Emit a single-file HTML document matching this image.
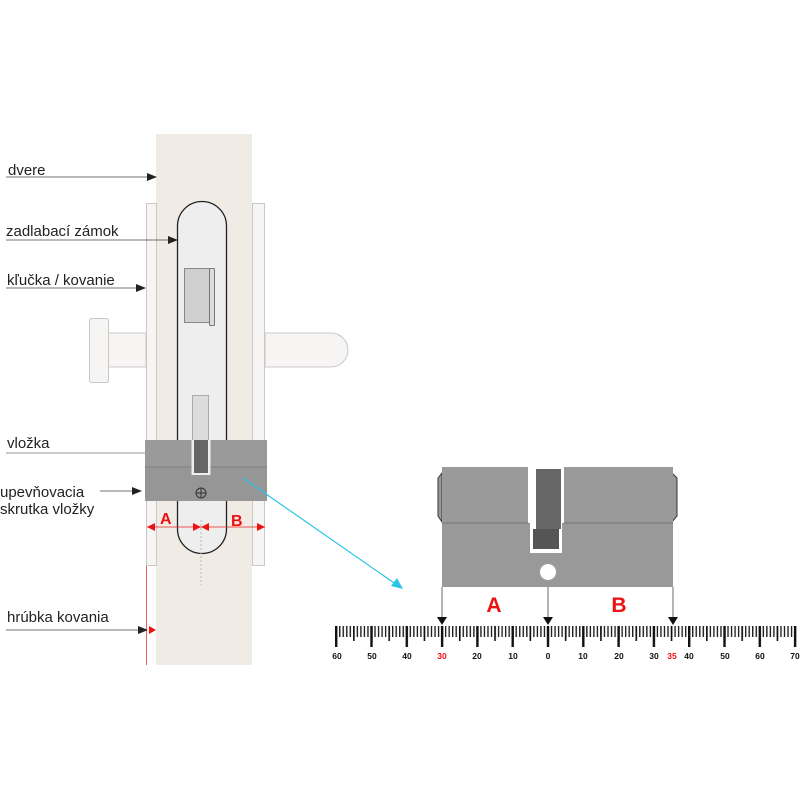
<!DOCTYPE html>
<html><head><meta charset="utf-8"><style>html,body{margin:0;padding:0;background:#fff}svg{display:block}</style></head>
<body>
<svg width="800" height="800" viewBox="0 0 800 800" xmlns="http://www.w3.org/2000/svg" font-family="Liberation Sans, Arial, sans-serif">
<defs>
<pattern id="tmin" patternUnits="userSpaceOnUse" x="547.3" y="0" width="3.53" height="800"><rect x="0" y="626" width="1.4" height="11" fill="#222"/></pattern>
<pattern id="t5" patternUnits="userSpaceOnUse" x="547.2" y="0" width="17.65" height="800"><rect x="0" y="626" width="1.6" height="15" fill="#111"/></pattern>
<pattern id="t10" patternUnits="userSpaceOnUse" x="546.8" y="0" width="35.3" height="800"><rect x="0" y="626" width="2.4" height="21" fill="#111"/></pattern>
<marker id="ab" markerWidth="10" markerHeight="10" refX="9" refY="5" orient="auto" markerUnits="userSpaceOnUse"><path d="M0,1 L10,5 L0,9 Z" fill="#222"/></marker>
</defs>
<rect x="156" y="134" width="96" height="531" fill="#f1ebe6"/>
<rect x="146.5" y="203.5" width="10" height="362" fill="#f7f5f3" stroke="#c8c8c8"/>
<rect x="252.5" y="203.5" width="12" height="362" fill="#f7f5f3" stroke="#c8c8c8"/>
<rect x="108" y="333" width="38" height="34" fill="#f7f5f3" stroke="#c8c8c8"/>
<rect x="89.5" y="318.5" width="19" height="64" rx="2" fill="#f7f5f3" stroke="#c8c8c8"/>
<path d="M265 333 H331 A17 17 0 0 1 331 367 H265 Z" fill="#f7f5f3" stroke="#c8c8c8"/>
<path d="M177.5 226 A24.5 24.5 0 0 1 226.5 226 V529 A24.5 24.5 0 0 1 177.5 529 Z" fill="#eeeeee" stroke="#222" stroke-width="1.3"/>
<rect x="184.5" y="268.5" width="25" height="54" fill="#cfcfcf" stroke="#888"/>
<rect x="209.5" y="268.5" width="5" height="57" rx="1" fill="#dcdcdc" stroke="#777"/>
<rect x="192.5" y="395.5" width="16" height="46" fill="#dcdcdc" stroke="#aaa"/>
<rect x="145" y="440" width="122" height="27" fill="#9a9a9a"/>
<rect x="145" y="467" width="122" height="34" fill="#969696"/>
<line x1="145" y1="467" x2="267" y2="467" stroke="#777" stroke-width="0.7"/>
<rect x="191.5" y="440" width="19" height="35" fill="#eee"/>
<rect x="194" y="440" width="14" height="33" fill="#666"/>
<circle cx="201" cy="493" r="5" fill="none" stroke="#333" stroke-width="1"/>
<path d="M196 493 H206 M201 488 V498" stroke="#333" stroke-width="1"/>
<line x1="201" y1="520" x2="201" y2="585" stroke="#bbb" stroke-dasharray="2,2"/>
<line x1="147" y1="527" x2="265" y2="527" stroke="#e22" stroke-width="0.8"/>
<path d="M147 527 L155 523 L155 531 Z M201 527 L193 523 L193 531 Z M201 527 L209 523 L209 531 Z M265 527 L257 523 L257 531 Z" fill="#e11"/>
<text x="160" y="524" font-size="16" font-weight="bold" fill="#e11">A</text>
<text x="231" y="526" font-size="16" font-weight="bold" fill="#e11">B</text>
<line x1="146.5" y1="566" x2="146.5" y2="665" stroke="#e33" stroke-width="0.8"/>
<path d="M156 630 L149 626 L149 634 Z" fill="#e11"/>
<g font-size="15" fill="#222">
<text x="8" y="175">dvere</text>
<text x="6" y="236">zadlabací zámok</text>
<text x="7" y="285">kľučka / kovanie</text>
<text x="7" y="448">vložka</text>
<text x="0" y="497">upevňovacia</text>
<text x="0" y="514">skrutka vložky</text>
<text x="7" y="622">hrúbka kovania</text>
</g>
<g stroke="#444" stroke-width="0.8" marker-end="url(#ab)">
<line x1="6" y1="177" x2="156" y2="177"/>
<line x1="6" y1="240" x2="177" y2="240"/>
<line x1="6" y1="288" x2="145" y2="288"/>
<line x1="100" y1="491" x2="141" y2="491"/>
<line x1="6" y1="630" x2="147" y2="630"/>
</g>
<line x1="6" y1="453" x2="145" y2="453" stroke="#999" stroke-width="1"/>
<line x1="243" y1="478" x2="397" y2="585" stroke="#29c4e6" stroke-width="1.2"/>
<path d="M403 589 L391 586 L397 578 Z" fill="#29c4e6"/>
<path d="M442 473 L438 478 V516 L442 522 Z" fill="#999" stroke="#333" stroke-width="1"/>
<path d="M672 473 L677 478 V516 L672 522 Z" fill="#999" stroke="#333" stroke-width="1"/>
<rect x="442" y="467" width="86" height="56" fill="#9a9a9a"/>
<rect x="564" y="467" width="109" height="56" fill="#9a9a9a"/>
<rect x="442" y="523" width="231" height="64" fill="#999"/>
<line x1="442" y1="523" x2="673" y2="523" stroke="#666" stroke-width="0.8"/>
<rect x="528" y="467" width="36" height="56" fill="#fff"/>
<rect x="530" y="523" width="32" height="30" fill="#fff"/>
<rect x="536" y="469" width="25" height="60" fill="#666"/>
<rect x="533" y="529" width="26" height="20" fill="#555"/>
<circle cx="548" cy="572" r="8" fill="#fff"/>
<g stroke="#444" stroke-width="0.8">
<line x1="442" y1="587" x2="442" y2="618"/>
<line x1="548" y1="587" x2="548" y2="618"/>
<line x1="673" y1="587" x2="673" y2="618"/>
</g>
<path d="M437 617 H447 L442 625 Z M543 617 H553 L548 625 Z M668 617 H678 L673 625 Z" fill="#111"/>
<text x="494" y="612" font-size="21" font-weight="bold" fill="#e11" text-anchor="middle">A</text>
<text x="619" y="612" font-size="21" font-weight="bold" fill="#e11" text-anchor="middle">B</text>
<rect x="334.5" y="620" width="463" height="30" fill="url(#tmin)"/>
<rect x="334.5" y="620" width="463" height="30" fill="url(#t5)"/>
<rect x="334.5" y="620" width="463" height="30" fill="url(#t10)"/>
<g font-size="8.5" font-weight="bold" fill="#111" text-anchor="middle">
<text x="337" y="659">60</text><text x="372" y="659">50</text><text x="407" y="659">40</text>
<text x="442" y="659" fill="#e11">30</text><text x="477" y="659">20</text><text x="513" y="659">10</text>
<text x="548" y="659">0</text><text x="583" y="659">10</text><text x="619" y="659">20</text>
<text x="654" y="659">30</text><text x="672" y="659" fill="#e11">35</text><text x="689" y="659">40</text>
<text x="725" y="659">50</text><text x="760" y="659">60</text><text x="795" y="659">70</text>
</g>
</svg>
</body></html>
